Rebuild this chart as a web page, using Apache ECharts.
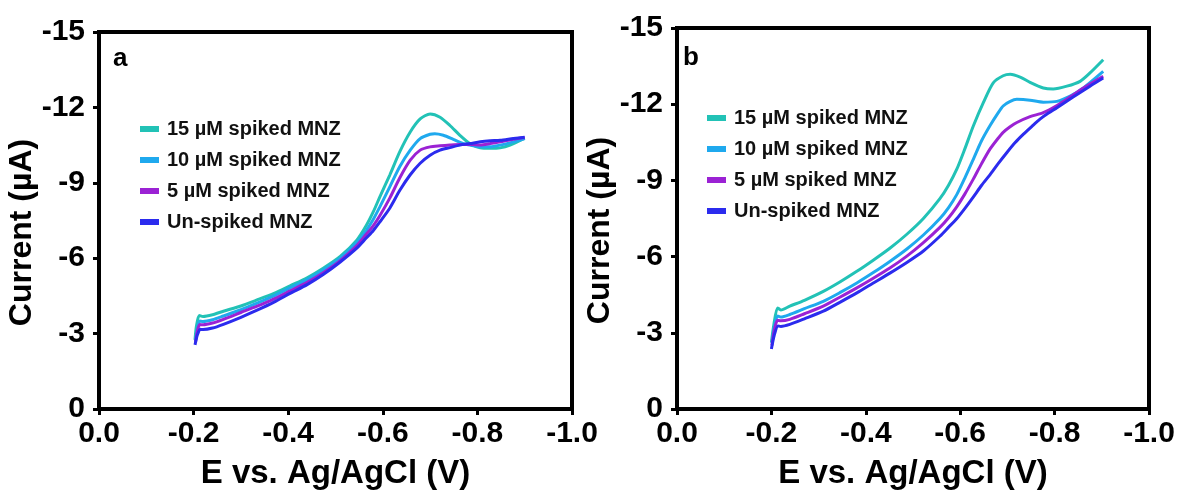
<!DOCTYPE html>
<html>
<head>
<meta charset="utf-8">
<script src="https://cdn.jsdelivr.net/npm/echarts@6/dist/echarts.min.js"></script>
<style>
html,body{margin:0;padding:0;background:#fff;}
#chart{width:1181px;height:495px;}
</style>
</head>
<body>
<div id="chart"></div>
<script>
// ---- data (E in V vs Ag/AgCl, current in µA) ----
const seriesNames = ['15 µM spiked MNZ', '10 µM spiked MNZ', '5 µM spiked MNZ', 'Un-spiked MNZ'];
const xTickLabels = ['0.0', '-0.2', '-0.4', '-0.6', '-0.8', '-1.0'];
const yTickLabels = ['0', '-3', '-6', '-9', '-12', '-15'];

// Panel a
const a15 = [[-0.203,-2.75],[-0.206,-3.3],[-0.212,-3.72],[-0.22,-3.68],[-0.24,-3.75],[-0.263,-3.89],[-0.30,-4.1],[-0.333,-4.33],[-0.37,-4.6],[-0.404,-4.9],[-0.44,-5.22],[-0.474,-5.6],[-0.51,-6.07],[-0.545,-6.72],[-0.565,-7.3],[-0.58,-7.85],[-0.594,-8.45],[-0.615,-9.32],[-0.636,-10.24],[-0.658,-11.02],[-0.679,-11.54],[-0.70,-11.74],[-0.721,-11.61],[-0.742,-11.28],[-0.763,-10.89],[-0.784,-10.56],[-0.806,-10.39],[-0.827,-10.37],[-0.848,-10.39],[-0.869,-10.5],[-0.90,-10.78]];
const a10 = [[-0.204,-2.7],[-0.208,-3.2],[-0.213,-3.5],[-0.22,-3.48],[-0.24,-3.55],[-0.263,-3.7],[-0.30,-3.95],[-0.333,-4.2],[-0.37,-4.5],[-0.404,-4.82],[-0.44,-5.15],[-0.474,-5.53],[-0.51,-6.0],[-0.545,-6.62],[-0.565,-7.1],[-0.58,-7.55],[-0.594,-8.05],[-0.615,-8.85],[-0.636,-9.65],[-0.658,-10.3],[-0.679,-10.76],[-0.70,-10.93],[-0.71,-10.95],[-0.728,-10.89],[-0.749,-10.73],[-0.77,-10.56],[-0.784,-10.5],[-0.806,-10.43],[-0.827,-10.43],[-0.848,-10.5],[-0.876,-10.63],[-0.90,-10.76]];
const a5 = [[-0.204,-2.65],[-0.208,-3.1],[-0.213,-3.36],[-0.22,-3.35],[-0.24,-3.42],[-0.263,-3.57],[-0.30,-3.84],[-0.333,-4.08],[-0.37,-4.38],[-0.404,-4.7],[-0.44,-5.04],[-0.474,-5.42],[-0.51,-5.9],[-0.545,-6.5],[-0.565,-6.95],[-0.58,-7.3],[-0.594,-7.7],[-0.615,-8.4],[-0.636,-9.2],[-0.658,-9.9],[-0.679,-10.3],[-0.70,-10.43],[-0.721,-10.47],[-0.742,-10.5],[-0.763,-10.52],[-0.784,-10.52],[-0.806,-10.5],[-0.827,-10.56],[-0.848,-10.63],[-0.876,-10.73],[-0.90,-10.8]];
const aUn = [[-0.203,-2.55],[-0.208,-2.95],[-0.214,-3.17],[-0.22,-3.16],[-0.24,-3.22],[-0.263,-3.37],[-0.30,-3.65],[-0.333,-3.92],[-0.37,-4.25],[-0.404,-4.6],[-0.44,-4.95],[-0.474,-5.35],[-0.51,-5.85],[-0.545,-6.4],[-0.565,-6.8],[-0.58,-7.1],[-0.594,-7.45],[-0.615,-8.0],[-0.636,-8.7],[-0.658,-9.32],[-0.679,-9.78],[-0.70,-10.1],[-0.721,-10.3],[-0.742,-10.4],[-0.763,-10.5],[-0.784,-10.56],[-0.806,-10.63],[-0.827,-10.67],[-0.848,-10.69],[-0.876,-10.76],[-0.90,-10.81]];

// Panel b
const b15 = [[-0.20,-2.62],[-0.205,-3.3],[-0.213,-3.98],[-0.22,-3.9],[-0.239,-4.05],[-0.27,-4.28],[-0.31,-4.63],[-0.345,-5.0],[-0.381,-5.42],[-0.415,-5.85],[-0.451,-6.33],[-0.487,-6.88],[-0.522,-7.5],[-0.557,-8.28],[-0.575,-8.8],[-0.593,-9.45],[-0.61,-10.25],[-0.628,-11.15],[-0.649,-12.06],[-0.67,-12.84],[-0.691,-13.12],[-0.706,-13.18],[-0.727,-13.07],[-0.748,-12.86],[-0.776,-12.64],[-0.797,-12.6],[-0.826,-12.71],[-0.854,-12.9],[-0.875,-13.23],[-0.903,-13.75]];
const b10 = [[-0.201,-2.6],[-0.206,-3.2],[-0.213,-3.66],[-0.22,-3.62],[-0.239,-3.72],[-0.27,-3.95],[-0.31,-4.24],[-0.345,-4.58],[-0.381,-4.96],[-0.415,-5.36],[-0.451,-5.81],[-0.487,-6.3],[-0.522,-6.85],[-0.557,-7.5],[-0.575,-7.92],[-0.593,-8.45],[-0.61,-9.1],[-0.628,-9.84],[-0.645,-10.55],[-0.663,-11.15],[-0.68,-11.65],[-0.691,-11.93],[-0.705,-12.1],[-0.72,-12.19],[-0.748,-12.16],[-0.776,-12.08],[-0.805,-12.11],[-0.833,-12.32],[-0.861,-12.64],[-0.903,-13.29]];
const b5 = [[-0.201,-2.5],[-0.206,-3.1],[-0.213,-3.49],[-0.22,-3.47],[-0.239,-3.53],[-0.27,-3.75],[-0.31,-4.05],[-0.345,-4.4],[-0.381,-4.77],[-0.415,-5.14],[-0.451,-5.55],[-0.487,-6.02],[-0.522,-6.55],[-0.557,-7.15],[-0.575,-7.52],[-0.593,-7.97],[-0.61,-8.47],[-0.628,-9.06],[-0.645,-9.65],[-0.663,-10.23],[-0.68,-10.65],[-0.691,-10.89],[-0.705,-11.1],[-0.72,-11.28],[-0.748,-11.51],[-0.776,-11.67],[-0.805,-11.95],[-0.833,-12.29],[-0.861,-12.64],[-0.903,-13.1]];
const bUn = [[-0.20,-2.36],[-0.206,-2.9],[-0.214,-3.27],[-0.22,-3.25],[-0.239,-3.33],[-0.27,-3.55],[-0.31,-3.85],[-0.345,-4.2],[-0.381,-4.57],[-0.415,-4.95],[-0.451,-5.35],[-0.487,-5.77],[-0.522,-6.22],[-0.557,-6.8],[-0.575,-7.15],[-0.593,-7.5],[-0.61,-7.9],[-0.628,-8.35],[-0.645,-8.8],[-0.663,-9.22],[-0.68,-9.65],[-0.699,-10.1],[-0.716,-10.48],[-0.734,-10.82],[-0.752,-11.13],[-0.769,-11.41],[-0.787,-11.65],[-0.805,-11.86],[-0.84,-12.29],[-0.875,-12.71],[-0.903,-13.03]];

const colors = ['#22c2b6', '#1fa9ee', '#9b22d4', '#2b2bee'];

// ---- chart ----
const FONT = '"Liberation Sans", Arial, Helvetica, sans-serif';
const chart = echarts.init(document.getElementById('chart'), null, {renderer: 'canvas'});

function xAxisDef(gi) {
  return {
    gridIndex: gi, type: 'value', min: -1, max: 0, interval: 0.2, inverse: true,
    name: 'E vs. Ag/AgCl (V)', nameLocation: 'middle', nameGap: 48,
    nameTextStyle: {fontFamily: FONT, fontSize: 33, fontWeight: 'bold', color: '#000'},
    axisLine: {show: true, onZero: false, lineStyle: {color: '#000', width: 4}},
    axisTick: {show: true, inside: false, length: 6, lineStyle: {color: '#000', width: 3}},
    axisLabel: {margin: 10, fontFamily: FONT, fontSize: 30, fontWeight: 'bold', color: '#000',
      formatter: v => xTickLabels[Math.round(-v / 0.2)]},
    splitLine: {show: false}
  };
}
function yAxisDef(gi) {
  return {
    gridIndex: gi, type: 'value', min: -15, max: 0, interval: 3, inverse: true,
    name: 'Current (µA)', nameLocation: 'middle', nameGap: 58,
    nameTextStyle: {fontFamily: FONT, fontSize: 32, fontWeight: 'bold', color: '#000', padding: [0, 24, 0, 0]},
    axisLine: {show: true, onZero: false, lineStyle: {color: '#000', width: 4}},
    axisTick: {show: true, inside: false, length: 6, lineStyle: {color: '#000', width: 3}},
    axisLabel: {margin: 14, fontFamily: FONT, fontSize: 30, fontWeight: 'bold', color: '#000',
      formatter: v => yTickLabels[Math.round(-v / 3)]},
    splitLine: {show: false}
  };
}
function lineSeries(name, data, gi, color) {
  return {
    name: name, type: 'line', xAxisIndex: gi, yAxisIndex: gi, data: data,
    showSymbol: false, smooth: 0.25, color: color,
    lineStyle: {width: 3, color: color}, itemStyle: {color: color},
    emphasis: {disabled: true}, animation: false
  };
}
function legendDef(left, top) {
  return {
    orient: 'vertical', left: left, top: top, padding: 0, itemGap: 11, itemWidth: 19, itemHeight: 6,
    icon: 'rect', data: seriesNames, selectedMode: false,
    textStyle: {fontFamily: FONT, fontSize: 20, fontWeight: 'bold', color: '#111', padding: [0, 0, 0, 3]}
  };
}

const aSets = [a15, a10, a5, aUn];
const bSets = [b15, b10, b5, bUn];
const series = [];
aSets.forEach((d, i) => series.push(lineSeries(seriesNames[i], d, 0, colors[i])));
bSets.forEach((d, i) => series.push(lineSeries(seriesNames[i], d, 1, colors[i])));

chart.setOption({
  animation: false,
  backgroundColor: '#fff',
  grid: [
    {left: 99, top: 32, width: 473, height: 382, show: true, borderColor: '#000', borderWidth: 4, backgroundColor: 'transparent'},
    {left: 677, top: 28, width: 472, height: 384, show: true, borderColor: '#000', borderWidth: 4, backgroundColor: 'transparent'}
  ],
  xAxis: [xAxisDef(0), xAxisDef(1)],
  yAxis: [yAxisDef(0), yAxisDef(1)],
  legend: [legendDef(140, 119), legendDef(707, 108)],
  graphic: [
    {type: 'text', left: 113, top: 46, style: {text: 'a', font: 'bold 26px ' + FONT, fill: '#000'}},
    {type: 'text', left: 683, top: 45, style: {text: 'b', font: 'bold 26px ' + FONT, fill: '#000'}}
  ],
  series: series
});
</script>
</body>
</html>
